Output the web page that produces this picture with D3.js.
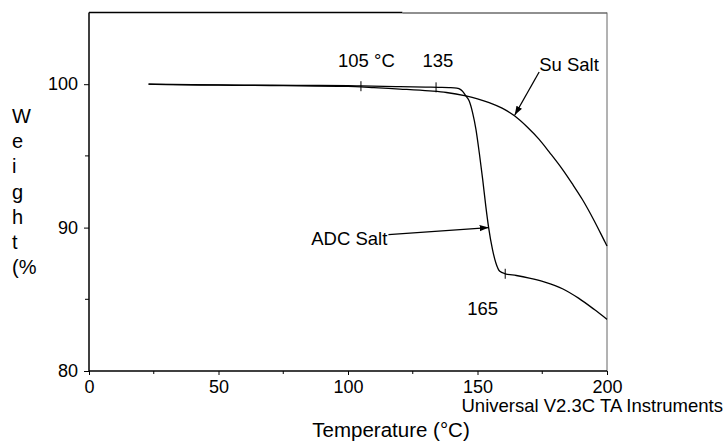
<!DOCTYPE html>
<html>
<head>
<meta charset="utf-8">
<script src="https://cdn.jsdelivr.net/npm/d3@7"></script>
<style>
  body { margin: 0; background: #fff; }
  svg { font-family: "Liberation Sans", Arial, sans-serif; }
</style>
</head>
<body>
<svg id="tga" width="725" height="446"></svg>
<script>
// Su Salt curve [temperature °C, weight %]
const suSalt = [
  [23, 100], [30, 99.97], [50, 99.93], [75, 99.9], [100, 99.85], [105, 99.82],
  [110, 99.76], [120, 99.66], [131.4, 99.53], [138, 99.42], [145.5, 99.18],
  [150, 98.98], [154.5, 98.72], [159.5, 98.33], [164.4, 97.78],
  [169, 97.05], [173.8, 96.15], [178, 95.2], [182.8, 94.06],
  [186.5, 93.08], [190.5, 91.96], [195, 90.5], [199.1, 89.04], [200, 88.72]
];

// ADC Salt curve [temperature °C, weight %]
const adcSalt = [
  [23, 100], [40, 99.97], [60, 99.94], [80, 99.92], [100, 99.9], [105, 99.88],
  [120, 99.83], [130, 99.8], [135, 99.78], [139, 99.76], [142, 99.72],
  [143.5, 99.62], [144.5, 99.45], [145.5, 99.18], [146.8, 98.83],
  [148.1, 98.02], [149.4, 96.85], [150.7, 95.2], [152, 93.36], [153.2, 91.5],
  [154.3, 90.0], [155.8, 88.46], [157.1, 87.53], [158.6, 86.95],
  [160.7, 86.78], [165, 86.66], [170, 86.48], [176, 86.2], [183, 85.72],
  [189, 85.08], [195, 84.3], [200, 83.6]
];

// "+" marks on the curves
const marks = [[105, 99.86], [134, 99.78], [160.7, 86.78]];

const xTicks = [0, 50, 100, 150, 200];
const xMinor = [25, 75, 125, 175];
const yTicks = [80, 90, 100];
const yMinor = [85, 95];
const yLabel = ["W", "e", "i", "g", "h", "t", "(%"];

// text labels [temperature, weight, text, anchor]
const labels = [
  [107.1, 101.19, "105 °C", "middle"],
  [134.7, 101.19, "135", "middle"],
  [173.8, 100.91, "Su Salt", "start"],
  [115.2, 88.81, "ADC Salt", "end"],
  [152, 83.92, "165", "middle"]
];

// arrows [from T, from W, to T, to W]
const arrows = [
  [173.8, 100.85, 164.4, 97.85],
  [115.6, 89.51, 154.3, 90.0]
];

const x = d3.scaleLinear().domain([0, 200]).range([89, 607]);
const y = d3.scaleLinear().domain([80, 105]).range([371, 12.5]);

const svg = d3.select("#tga");

svg.append("defs").append("marker")
  .attr("id", "head")
  .attr("viewBox", "0 0 10 10")
  .attr("refX", 10).attr("refY", 5)
  .attr("markerWidth", 9).attr("markerHeight", 9)
  .attr("markerUnits", "userSpaceOnUse")
  .attr("orient", "auto")
  .append("path")
  .attr("d", "M0,1.5L10,5L0,8.5Z")
  .attr("fill", "#000");

// frame: top (heavier on the left part) and right
svg.append("line")
  .attr("x1", x(0)).attr("x2", x(121))
  .attr("y1", y(105)).attr("y2", y(105))
  .attr("stroke", "#000").attr("stroke-width", 1.6);
svg.append("line")
  .attr("x1", x(121)).attr("x2", x(200))
  .attr("y1", y(105) + 0.5).attr("y2", y(105) + 0.5)
  .attr("stroke", "#222").attr("stroke-width", 1.1);
svg.append("line")
  .attr("x1", x(200)).attr("x2", x(200))
  .attr("y1", y(105)).attr("y2", y(80))
  .attr("stroke", "#666").attr("stroke-width", 1);

// x axis
const xAxis = svg.append("g")
  .attr("transform", `translate(0,${y(80)})`)
  .call(d3.axisBottom(x).tickValues(xTicks).tickSize(4).tickPadding(5).tickFormat(d3.format("d")));
xAxis.select(".domain").attr("stroke-width", 1.5).attr("d", `M${x(0)},0H${x(200)}`);
xAxis.selectAll("text").style("font-size", "18px").attr("fill", "#000");

svg.append("g")
  .attr("transform", `translate(0,${y(80)})`)
  .selectAll("line")
  .data(xMinor)
  .enter()
  .append("line")
  .attr("x1", d => x(d)).attr("x2", d => x(d))
  .attr("y1", 0).attr("y2", 3)
  .attr("stroke", "#000");

// y axis
const yAxis = svg.append("g")
  .attr("transform", `translate(${x(0)},0)`)
  .call(d3.axisLeft(y).tickValues(yTicks).tickSize(5).tickPadding(6).tickFormat(d3.format("d")));
yAxis.select(".domain").attr("stroke-width", 1.5).attr("d", `M0,${y(80)}V${y(105)}`);
yAxis.selectAll("text").style("font-size", "18px").attr("fill", "#000");

svg.append("g")
  .attr("transform", `translate(${x(0)},0)`)
  .selectAll("line")
  .data(yMinor)
  .enter()
  .append("line")
  .attr("x1", -4).attr("x2", 0)
  .attr("y1", d => y(d)).attr("y2", d => y(d))
  .attr("stroke", "#000");

// curves
const line = d3.line()
  .x(d => x(d[0]))
  .y(d => y(d[1]))
  .curve(d3.curveMonotoneX);

[suSalt, adcSalt].forEach(series => {
  svg.append("path")
    .datum(series)
    .attr("d", line)
    .attr("fill", "none")
    .attr("stroke", "#000")
    .attr("stroke-width", 1.3);
});

svg.append("g")
  .selectAll("line")
  .data(marks)
  .enter()
  .append("line")
  .attr("x1", d => x(d[0])).attr("x2", d => x(d[0]))
  .attr("y1", d => y(d[1]) - 5).attr("y2", d => y(d[1]) + 5)
  .attr("stroke", "#000").attr("stroke-width", 1);

// arrows
svg.append("g")
  .selectAll("line")
  .data(arrows)
  .enter()
  .append("line")
  .attr("x1", d => x(d[0])).attr("y1", d => y(d[1]))
  .attr("x2", d => x(d[2])).attr("y2", d => y(d[3]))
  .attr("stroke", "#000").attr("stroke-width", 1.3)
  .attr("marker-end", "url(#head)");

// annotation text
svg.append("g")
  .selectAll("text")
  .data(labels)
  .enter()
  .append("text")
  .attr("x", d => x(d[0]))
  .attr("y", d => y(d[1]))
  .attr("text-anchor", d => d[3])
  .style("font-size", "18.5px")
  .text(d => d[2]);

// stacked y label
svg.append("g")
  .selectAll("text")
  .data(yLabel)
  .enter()
  .append("text")
  .attr("x", 12)
  .attr("y", (d, i) => 123 + i * 25.2)
  .style("font-size", "20px")
  .text(d => d);

svg.append("text")
  .attr("x", 723).attr("y", 412)
  .attr("text-anchor", "end")
  .style("font-size", "18.5px")
  .text("Universal V2.3C TA Instruments");

svg.append("text")
  .attr("x", 391).attr("y", 437)
  .attr("text-anchor", "middle")
  .style("font-size", "20.5px")
  .text("Temperature (°C)");
</script>
</body>
</html>
